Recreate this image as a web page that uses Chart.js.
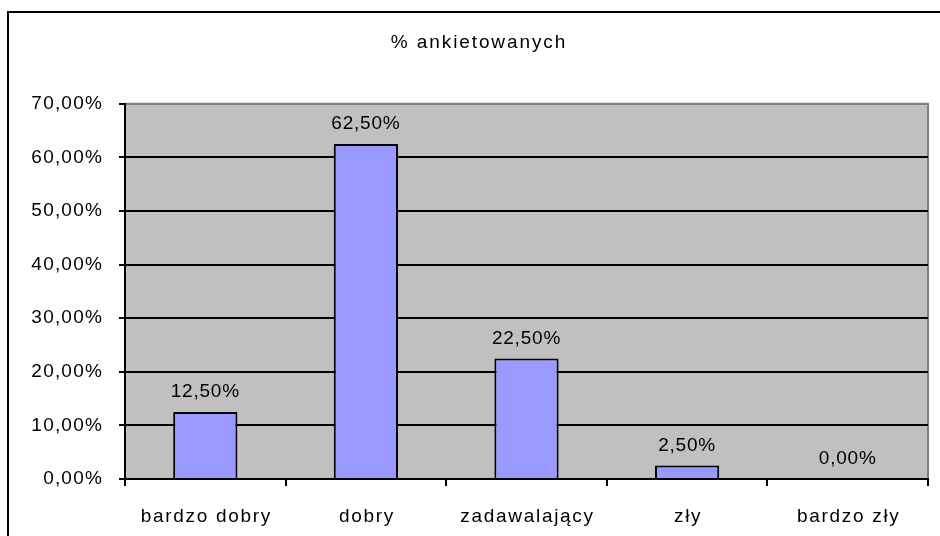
<!DOCTYPE html>
<html>
<head>
<meta charset="utf-8">
<script src="https://cdn.jsdelivr.net/npm/chart.js@4/dist/chart.umd.min.js"></script>
<style>
  html, body { margin: 0; padding: 0; background: #fff; }
  canvas { display: block; }
</style>
</head>
<body>
<canvas id="c" width="940" height="536"></canvas>
<script>
const categories = ['bardzo dobry', 'dobry', 'zadawalający', 'zły', 'bardzo zły'];
const values = [12.5, 62.5, 22.5, 2.5, 0];
const titleText = '% ankietowanych';
const yMin = 0, yMax = 70, yStep = 10;

const FONT = "'Liberation Sans', Arial, sans-serif";
const FS = 19;
const fmt = v => v.toFixed(2).replace('.', ',') + '%';

function withSpacing(obj, method, spacing, dx) {
  if (!obj || obj['__p_' + method]) return;
  const orig = obj[method];
  obj[method] = function (...args) {
    const ctx = this.ctx || this.chart.ctx;
    ctx.save();
    ctx.letterSpacing = spacing;
    if (dx) ctx.translate(dx, 0);
    const r = orig.apply(this, args);
    ctx.restore();
    ctx.letterSpacing = '0px';
    return r;
  };
  obj['__p_' + method] = true;
}

const frame = {
  id: 'frame',
  afterLayout(chart) {
    withSpacing(chart.titleBlock, 'draw', '1.9px', 15);
  },
  beforeDraw(chart) {
    const {ctx, chartArea: a} = chart;
    ctx.save();
    ctx.fillStyle = '#C0C0C0';
    ctx.fillRect(a.left, a.top, a.right - a.left, a.bottom - a.top);
    ctx.strokeStyle = '#808080';
    ctx.lineWidth = 2;
    ctx.beginPath();
    ctx.moveTo(a.left, a.top);
    ctx.lineTo(a.right, a.top);
    ctx.lineTo(a.right, a.bottom);
    ctx.stroke();
    ctx.restore();
  },
  afterDatasetsDraw(chart) {
    const {ctx} = chart;
    const meta = chart.getDatasetMeta(0);
    ctx.save();
    ctx.letterSpacing = '0.8px';
    ctx.font = FS + 'px ' + FONT;
    ctx.fillStyle = '#000';
    ctx.textAlign = 'center';
    ctx.textBaseline = 'middle';
    meta.data.forEach((bar, i) => {
      ctx.fillText(fmt(values[i]), bar.x, bar.y - 20);
    });
    ctx.restore();
    ctx.letterSpacing = '0px';
  },
  afterDraw(chart) {
    const {ctx} = chart;
    ctx.save();
    ctx.strokeStyle = '#000';
    ctx.lineWidth = 2;
    ctx.beginPath();
    ctx.moveTo(8, 540);
    ctx.lineTo(8, 12);
    ctx.lineTo(945, 12);
    ctx.stroke();
    ctx.restore();
  }
};

new Chart(document.getElementById('c'), {
  type: 'bar',
  data: {
    labels: categories,
    datasets: [{
      data: values,
      backgroundColor: '#9999FF',
      borderColor: '#000000',
      borderWidth: ctx => (values[ctx.dataIndex] === 0 ? 0 : 2),
      borderSkipped: 'start',
      barPercentage: 0.4,
      categoryPercentage: 1.0
    }]
  },
  options: {
    responsive: false,
    animation: false,
    layout: { padding: { left: 0, right: 12, top: 0, bottom: 0 } },
    plugins: {
      legend: { display: false },
      tooltip: { enabled: false },
      title: {
        display: true,
        text: titleText,
        color: '#000',
        font: { family: FONT, size: FS, weight: 'normal', lineHeight: 1.2 },
        padding: { top: 31, bottom: 50 }
      }
    },
    scales: {
      x: {
        offset: true,
        grid: {
          offset: true,
          drawOnChartArea: false,
          drawTicks: true,
          tickLength: 7,
          color: '#000',
          lineWidth: 2
        },
        border: { display: true, color: '#000', width: 2 },
        ticks: {
          color: '#000',
          font: { family: FONT, size: FS },
          padding: 19,
          maxRotation: 0,
          autoSkip: false
        },
        afterFit(scale) {
          scale.height = 57;
          withSpacing(scale, 'drawLabels', '1.7px', 1);
        }
      },
      y: {
        min: yMin,
        max: yMax,
        grid: {
          color: ctx => (ctx.tick && ctx.tick.value === yMax ? '#808080' : '#000'),
          lineWidth: 2,
          drawTicks: true,
          tickLength: 6,
          tickColor: '#000'
        },
        border: { display: true, color: '#000', width: 2 },
        ticks: {
          stepSize: yStep,
          color: '#000',
          font: { family: FONT, size: FS },
          padding: 16,
          callback: v => fmt(v)
        },
        afterFit(scale) {
          scale.width = 125;
          withSpacing(scale, 'drawLabels', '1.2px');
        }
      }
    }
  },
  plugins: [frame]
});
</script>
</body>
</html>
